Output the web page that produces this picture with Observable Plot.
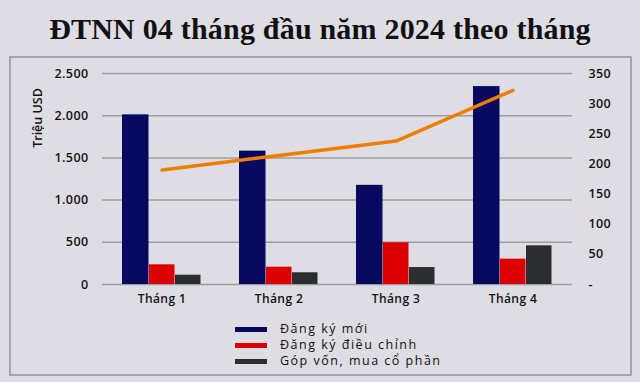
<!DOCTYPE html>
<html>
<head>
<meta charset="utf-8">
<script src="https://cdn.jsdelivr.net/npm/d3@7"></script>
<script src="https://cdn.jsdelivr.net/npm/@observablehq/plot@0.6"></script>
<style>
  html, body { margin: 0; padding: 0; }
  body { width: 640px; height: 382px; background: #dedde4; position: relative; overflow: hidden; }
  #title { position: absolute; left: 0; top: 9px; width: 640px; text-align: center;
    font-family: "Liberation Serif", serif; font-weight: bold; font-size: 30px; letter-spacing: 0.2px; color: #111; line-height: 40px; }
  #frame { position: absolute; left: 9px; top: 56px; width: 623px; height: 320px; box-sizing: border-box;
    border: 2px solid #a4a4ab; }
  #chart { position: absolute; left: 0; top: 57px; }
  #ylabel { position: absolute; left: 37px; top: 118px; transform: translate(-50%, -50%) rotate(-90deg);
    font-family: "Open Sans", sans-serif; font-weight: 600; font-size: 12.5px; color: #111; white-space: nowrap; }
  #legend { position: absolute; left: 235px; top: 321px; font-family: "Open Sans", sans-serif; font-size: 12.5px;
    letter-spacing: 1.5px; color: #111; }
  .item { display: flex; align-items: center; height: 16px; line-height: 14px; }
  .item span { line-height: 14px; }
  .sw { width: 32px; height: 5px; margin-right: 13px; }
</style>
</head>
<body>
<div id="title">ĐTNN 04 tháng đầu năm 2024 theo tháng</div>
<div id="frame"></div>
<div id="chart"></div>
<div id="ylabel">Triệu USD</div>
<div id="legend"></div>
<script>
const months = ["Tháng 1", "Tháng 2", "Tháng 3", "Tháng 4"];
const seriesNames = ["Đăng ký mới", "Đăng ký điều chỉnh", "Góp vốn, mua cổ phần"];
const seriesColors = ["#08085e", "#dc0000", "#2b2e31"];
const newReg = [2010, 1580, 1175, 2345];
const adjustReg = [233, 205, 494, 300];
const capital = [110, 139, 201, 458];
const lineValues = [190, 214, 238, 322];
const leftTicks = [0, 500, 1000, 1500, 2000, 2500];
const rightTicks = [0, 50, 100, 150, 200, 250, 300, 350];

const leftMax = 2500, rightMax = 350;
const toLeft = v => v * leftMax / rightMax;

const rows = s => months.map((m, i) => ({month: m, value: s[i]}));
const lineData = months.map((m, i) => ({month: m, value: toLeft(lineValues[i])}));

const font = "Open Sans, sans-serif";

const chart = Plot.plot({
  width: 640,
  height: 253,
  marginLeft: 102,
  marginRight: 68,
  marginTop: 16,
  marginBottom: 26,
  style: {background: "transparent", fontFamily: font, fontSize: "12.5px", fontWeight: "600", color: "#111", letterSpacing: "0.4px"},
  x: {type: "band", domain: months, padding: 0, label: null},
  y: {domain: [0, leftMax], label: null},
  marks: [
    Plot.gridY(leftTicks, {stroke: "#9c9ca2", strokeOpacity: 1, strokeWidth: 1.5}),
    Plot.barY(rows(newReg), {x: "month", y: "value", fill: seriesColors[0], insetLeft: 19, insetRight: 71.5}),
    Plot.barY(rows(adjustReg), {x: "month", y: "value", fill: seriesColors[1], insetLeft: 46, insetRight: 45.5}),
    Plot.barY(rows(capital), {x: "month", y: "value", fill: seriesColors[2], insetLeft: 72, insetRight: 19.5}),
    Plot.lineY(lineData, {x: "month", y: "value", stroke: "#ef7d00", strokeWidth: 3.5, strokeLinecap: "round"}),
    Plot.axisX({tickSize: 0, tickPadding: 10, fontSize: 12}),
    Plot.axisY(leftTicks, {anchor: "left", tickSize: 0, tickPadding: 14, tickFormat: d => d3.format(",")(d).replace(/,/g, ".")}),
    Plot.axisY(rightTicks.map(toLeft), {anchor: "right", tickSize: 0, tickPadding: 16, textAnchor: "start",
      tickFormat: d => { const v = Math.round(d * rightMax / leftMax); return v === 0 ? "-" : String(v); }})
  ]
});
document.getElementById("chart").appendChild(chart);

const legend = document.getElementById("legend");
seriesNames.forEach((name, i) => {
  const item = document.createElement("div");
  item.className = "item";
  const sw = document.createElement("div");
  sw.className = "sw";
  sw.style.background = seriesColors[i];
  const t = document.createElement("span");
  t.textContent = name;
  item.appendChild(sw);
  item.appendChild(t);
  legend.appendChild(item);
});
</script>
</body>
</html>
